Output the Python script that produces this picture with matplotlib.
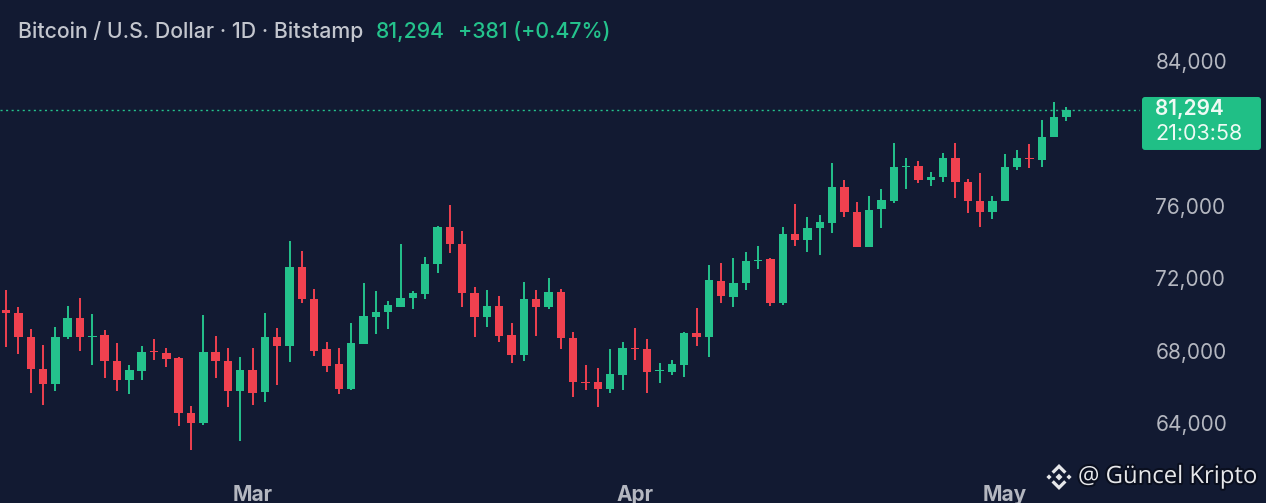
import matplotlib
matplotlib.use("Agg")
import matplotlib.pyplot as plt
import matplotlib.patheffects as pe
import numpy as np
import pandas as pd
from matplotlib.patches import FancyBboxPatch, Polygon
from matplotlib.ticker import FuncFormatter

# daily BTC/USD candles (Bitstamp, 1D)
start_date = "2026-02-09"
opens = [
    70240, 70080, 68750, 66980, 66150, 68750, 69800, 68750, 68860, 67430,
    66380, 66870, 67980, 67870, 67590, 64550, 64000, 67920, 67430, 65770,
    66930, 65710, 68750, 68250, 72620, 70850, 68090, 67260, 65880, 68370,
    69860, 70130, 70410, 70910, 71130, 72780, 74830, 73890, 71180, 69860,
    70460, 68860, 67760, 70850, 70410, 71240, 68700, 66270, 66270, 65880,
    66650, 68140, 68090, 66870, 66820, 67200, 68970, 68750, 71850, 70960,
    71740, 72950, 73060, 70630, 74440, 74110, 74770, 75050, 77040, 75660,
    73720, 75820, 76270, 78140, 78200, 77430, 77590, 78640, 77320, 76270,
    75660, 76270, 78140, 78640, 78530, 79800, 80913,
]
highs = [
    71350, 70410, 69190, 68310, 69300, 70460, 70910, 70020, 69140, 68420,
    67200, 68250, 68640, 68140, 67650, 64940, 69970, 68810, 68140, 67650,
    68140, 70080, 69250, 74060, 73500, 71400, 68480, 68140, 69520, 71740,
    71290, 70740, 73890, 71290, 73170, 74860, 76040, 74610, 71510, 71350,
    71020, 69520, 71790, 71350, 72010, 71400, 69030, 67200, 67040, 68090,
    68480, 69250, 68640, 67320, 67480, 69030, 70350, 72730, 72840, 73120,
    73450, 73780, 73100, 74830, 76100, 75380, 75490, 78370, 77430, 76210,
    76540, 76930, 79470, 78640, 78480, 77870, 78920, 79470, 77480, 77810,
    76540, 78860, 79080, 79410, 80740, 81740, 81460,
]
lows = [
    68200, 67810, 65660, 64990, 65770, 68640, 67980, 67200, 66490, 65770,
    65600, 66380, 67480, 67090, 63830, 62510, 63890, 66490, 64880, 63010,
    64990, 65160, 66100, 67370, 70630, 67700, 66820, 65600, 65820, 68370,
    68920, 69190, 70410, 70300, 70850, 72290, 73390, 70410, 68750, 69300,
    68480, 67320, 67430, 68810, 70300, 68090, 65440, 65820, 64880, 65660,
    65820, 67480, 65660, 66210, 66650, 66540, 68250, 67650, 70630, 70410,
    71350, 72510, 70460, 70520, 73780, 73450, 73280, 74500, 75380, 73700,
    73700, 74770, 76160, 76930, 77260, 77090, 77320, 76430, 75600, 74830,
    75270, 76270, 77980, 78090, 78140, 79800, 80690,
]
closes = [
    70080, 68750, 66980, 66150, 68750, 69800, 68750, 68810, 67430, 66380,
    66930, 67920, 67920, 67540, 64550, 64000, 67920, 67430, 65770, 66930,
    65660, 68750, 68250, 72620, 70850, 67980, 67150, 65880, 68420, 69910,
    70130, 70520, 70910, 71180, 72780, 74830, 73890, 71180, 69860, 70460,
    68810, 67760, 70850, 70410, 71240, 68700, 66270, 66210, 65880, 66710,
    68140, 68090, 66820, 66930, 67260, 68970, 68750, 71900, 71020, 71740,
    72950, 73010, 70630, 74440, 74110, 74770, 75110, 77040, 75660, 73720,
    75770, 76320, 78140, 78200, 77430, 77590, 78640, 77320, 76270, 75660,
    76270, 78140, 78640, 78590, 79800, 80913, 81294,
]
price_ticks = [64000, 68000, 72000, 76000, 80000, 84000]
countdown = "21:03:58"
title_main = "Bitcoin / U.S. Dollar · 1D · Bitstamp"
watermark = "@ Güncel Kripto"

BG = "#121a32"
UP = "#24c28c"
DOWN = "#f0414f"
TAG = "#20bf86"
GRAY = "#b4b7c0"
FONT = ["Inter", "DejaVu Sans"]

dates = pd.date_range(start_date, periods=len(closes), freq="D")
o = np.array(opens, dtype=float)
h = np.array(highs, dtype=float)
l = np.array(lows, dtype=float)
c = np.array(closes, dtype=float)
x = np.arange(len(c))
up = c >= o
colors = np.where(up, UP, DOWN)

fig = plt.figure(figsize=(12.66, 5.03), dpi=100, facecolor=BG)
ax = fig.add_axes([0, 33 / 503, 1140 / 1266, 420 / 503], facecolor=BG)

ax.vlines(x, l, h, colors=colors, linewidth=1.4, zorder=2)
body_bottom = np.minimum(o, c)
body_height = np.maximum(np.abs(c - o), 70)
ax.bar(x, body_height, bottom=body_bottom, width=0.68, color=colors, linewidth=0, zorder=3)

ax.set_xlim(-0.49, 91.97)
ax.set_ylim(61403, 84608)

last = c[-1]
ax.axhline(last, color=UP, linewidth=1.0, linestyle=(0, (1.5, 2.5)), zorder=1)

# right price scale, the label under the price tag is hidden like on TradingView
shown = [t for t in price_ticks if abs(t - last) > 1500]
ax.yaxis.tick_right()
ax.set_yticks(shown)
ax.yaxis.set_major_formatter(FuncFormatter(lambda v, pos: "{:,.0f}".format(v)))
ax.tick_params(axis="y", length=0, pad=11, labelsize=15, labelcolor=GRAY)
for lab in ax.get_yticklabels():
    lab.set_fontfamily(FONT)

month_pos = [i for i, d in enumerate(dates) if d.day == 1]
ax.set_xticks(month_pos)
ax.set_xticklabels([dates[i].strftime("%b") for i in month_pos])
ax.tick_params(axis="x", length=0, pad=11, labelsize=15, labelcolor=GRAY)
for lab in ax.get_xticklabels():
    lab.set_fontfamily(FONT)
    lab.set_fontweight("bold")

for side in ax.spines.values():
    side.set_visible(False)

# price tag on the scale
fig.canvas.draw()
tag_y = ax.transData.transform((0, last))[1]
fig.patches.append(FancyBboxPatch((1142, tag_y - 40), 119, 53,
                                  boxstyle="round,pad=0,rounding_size=3",
                                  transform=None, fc=TAG, ec="none", figure=fig))
fig.text(1155 / 1266, (tag_y + 1) / 503, "{:,.0f}".format(last), color="#eefaf4",
         fontsize=15, fontweight="semibold", family=FONT, va="center")
fig.text(1155 / 1266, (tag_y - 24) / 503, countdown, color="#eefaf4",
         fontsize=15.5, family=FONT, va="center")

# header line
renderer = fig.canvas.get_renderer()
change = c[-1] - c[-2]
pieces = [
    (title_main, "#c3c6ce"),
    ("{:,.0f}".format(last), UP),
    ("{:+,.0f} ({:+.2f}%)".format(change, change / c[-2] * 100), UP),
]
cursor = 18
for text, col in pieces:
    t = fig.text(cursor / 1266, 1 - 32 / 503, text, color=col, fontsize=15.3,
                 fontweight="medium", family=FONT, va="center")
    cursor += t.get_window_extent(renderer=renderer).width + 13

# watermark with a small binance-style mark
shadow = [pe.withStroke(linewidth=3, foreground="#0a0f1f")]
fig.text(1078 / 1266, 1 - 477 / 503, watermark, color="#e6e7ea", fontsize=17.2,
         family=["Open Sans", "DejaVu Sans"], va="center", path_effects=shadow)
cx, cy = 1059, 503 - 477
shapes = [
    [(0, 3.5), (3.5, 0), (0, -3.5), (-3.5, 0)],
    [(-10, 2.6), (-7.4, 0), (-10, -2.6), (-12.6, 0)],
    [(10, 2.6), (12.6, 0), (10, -2.6), (7.4, 0)],
    [(0, 13), (7.5, 5.5), (5.2, 3.2), (0, 8.4), (-5.2, 3.2), (-7.5, 5.5)],
    [(0, -13), (7.5, -5.5), (5.2, -3.2), (0, -8.4), (-5.2, -3.2), (-7.5, -5.5)],
]
for pts in shapes:
    fig.patches.append(Polygon([(cx + px, cy + py) for px, py in pts], closed=True,
                               transform=None, fc="#e6e7ea", ec="none", figure=fig))

fig.savefig("out.png", dpi=100, facecolor=BG)
